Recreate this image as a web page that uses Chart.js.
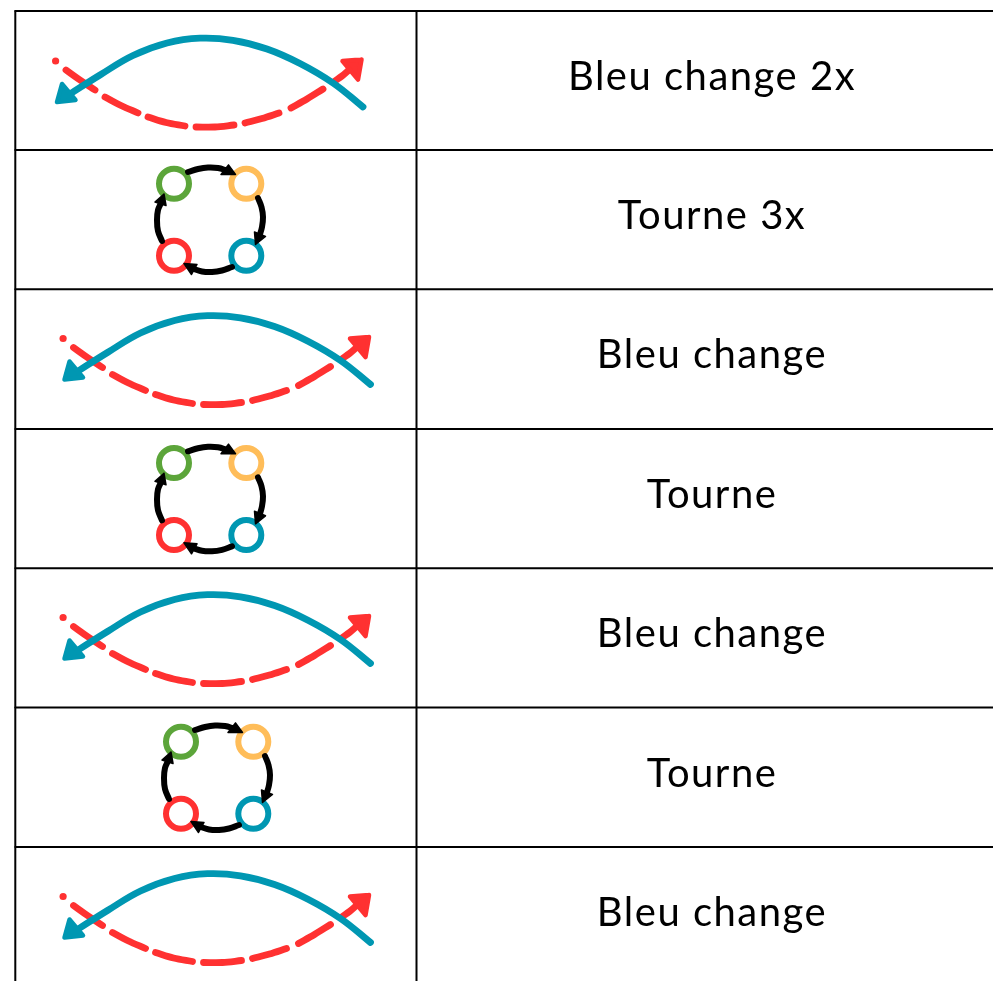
<!DOCTYPE html>
<html><head><meta charset="utf-8">
<style>html,body{margin:0;padding:0;background:#fff;overflow:hidden}canvas{display:block}</style>
<script src="https://cdn.jsdelivr.net/npm/chart.js@4"></script>
</head><body><canvas id="c" width="993" height="981"></canvas>
<script>
// table
const columnLines = [15.3, 416.5];
const rowLines = [11, 150, 289.3, 429, 568.3, 707.5, 847];
const tableTop = 11, tableBottom = 981, tableLeft = 15.3, tableRight = 993;
const rowTexts = ["Bleu change 2x","Tourne 3x","Bleu change","Tourne","Bleu change","Tourne","Bleu change"];
const textBaselines = [90, 229, 368, 508, 647, 787, 926];
const textCentre = 712;

// "swap" glyph (values in the frame of the first row)
const swapBlueCurve = [[363,107],[333,83],[300,63.5],[267,49],[233,40.3],[200,38.2],[167,43],[133,55.5],[100,75],[70,94]];
const swapBlueHead = [[57,102],[62,84],[75.5,100],[57,102]];
const swapRedDot = [[55.6,61]];
const swapRedDashes = [
  [[66,70],[80,80],[95,90]],
  [[105,97],[121,105.5],[138,113]],
  [[148,117],[166,122.5],[185,126]],
  [[196,127],[215,127],[234,125]],
  [[245,123],[262,118.5],[279,113]],
  [[291,108],[307,99],[323,89]],
  [[335,81],[342,76],[350,69]]
];
const swapRedHead = [[361.5,59.5],[342.5,61],[358,79.5],[361.5,59.5]];
const swapOffsets = [[0,0],[7.5,277.5],[7.5,556.5],[7.5,835.5]];

// "cycle" glyph
const cycleRings = [
  {x:174, y:183.7, color:"#5CA53A"},
  {x:246.3, y:183.7, color:"#FFBD59"},
  {x:174, y:255.7, color:"#FF3131"},
  {x:246.3, y:255.7, color:"#0097B2"}
];
const cycleArcs = [
  [[188,172],[198,169],[208,167.5],[218,168],[227,170.5]],
  [[258,198],[261.5,207],[263,217],[262,227],[259.5,236]],
  [[232,267],[222,270.5],[212,272],[202,271.5],[194,269]],
  [[162,241],[158,231],[157,220],[158,210],[161,203]]
];
const cycleHeads = [
  [[228.5,165],[235.5,174.5],[221,174.5],[228.5,165]],
  [[265.5,236.5],[255.5,244.5],[254.5,232],[265.5,236.5]],
  [[184,263.5],[197,264.5],[191.5,274.5],[184,263.5]],
  [[164,194],[155,202],[166,205.5],[164,194]]
];
const cycleOffsets = [[0,0],[0,279.3],[7,558]];

const BLUE="#0097B2", RED="#FF3131", INK="#000000";
const datasets=[];
const pts=(list,o=[0,0])=>list.map(([x,y])=>({x:x+o[0],y:y+o[1]}));
function line(data,color,width,tension){
  datasets.push({data,showLine:true,borderColor:color,borderWidth:width,tension:tension||0,
    borderCapStyle:'round',borderJoinStyle:'round',pointRadius:0,fill:false,clip:false});
}
function head(data,color,width){
  datasets.push({data,showLine:true,borderColor:color,backgroundColor:color,borderWidth:width,tension:0,
    borderCapStyle:'round',borderJoinStyle:'round',pointRadius:0,fill:'shape',clip:false});
}
// table rules
columnLines.forEach(x=>line([{x,y:tableTop},{x,y:tableBottom}],INK,2));
rowLines.forEach(y=>line([{x:tableLeft,y},{x:tableRight,y}],INK,2));
// swap glyphs
swapOffsets.forEach(o=>{
  datasets.push({data:pts(swapRedDot,o),showLine:false,pointRadius:3.6,pointBorderWidth:0,pointBackgroundColor:RED,clip:false});
  swapRedDashes.forEach(d=>line(pts(d,o),RED,6.8,0.35));
  head(pts(swapRedHead,o),RED,4.5);
  line(pts(swapBlueCurve,o),BLUE,6.8,0.4);
  head(pts(swapBlueHead,o),BLUE,4.5);
});
// cycle glyphs
cycleOffsets.forEach(o=>{
  cycleRings.forEach(r=>datasets.push({data:[{x:r.x+o[0],y:r.y+o[1]}],showLine:false,pointRadius:15,
    pointBorderWidth:6,pointBorderColor:r.color,pointBackgroundColor:'rgba(0,0,0,0)',clip:false}));
  cycleArcs.forEach(a=>line(pts(a,o),INK,6,0.4));
  cycleHeads.forEach(h=>head(pts(h,o),INK,1.5));
});
datasets.forEach((d,i)=>{d.order=datasets.length-i;});

const rowTextPlugin={id:'rowText',afterDraw(chart){
  const {ctx,scales:{x,y}}=chart;
  ctx.save();
  ctx.fillStyle="#000";
  ctx.font='400 40px Lato';
  ctx.letterSpacing='1.5px';
  ctx.textAlign='center';
  ctx.textBaseline='alphabetic';
  rowTexts.forEach((t,i)=>ctx.fillText(t,x.getPixelForValue(textCentre),y.getPixelForValue(textBaselines[i])));
  ctx.restore();
}};
new Chart(document.getElementById('c'),{
  type:'scatter',
  data:{datasets},
  plugins:[rowTextPlugin],
  options:{
    responsive:false,animation:false,
    layout:{padding:0,autoPadding:false},
    plugins:{legend:{display:false},tooltip:{enabled:false},title:{display:false}},
    scales:{
      x:{type:'linear',min:0,max:993,display:false},
      y:{type:'linear',min:0,max:981,reverse:true,display:false}
    }
  }
});
</script></body></html>
